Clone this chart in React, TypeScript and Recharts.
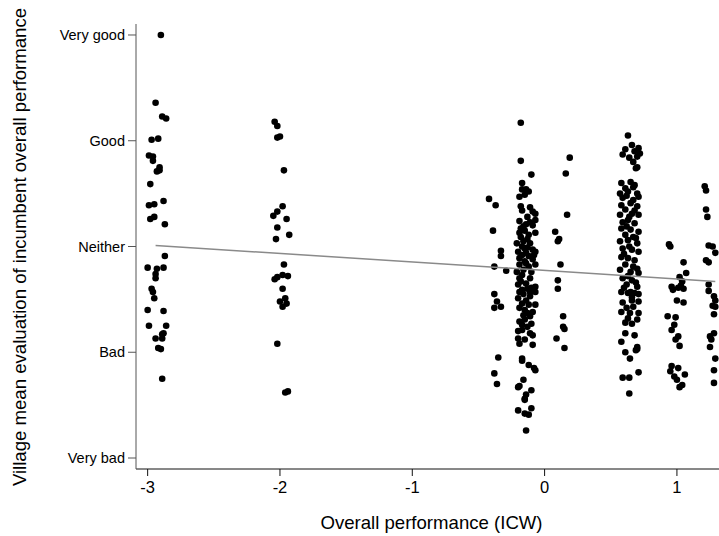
import { ScatterChart, Scatter, XAxis, YAxis } from 'recharts';

// [overall performance (ICW), village mean evaluation]
const groupA: [number, number][] = [
  [-2.9, 5.0], [-2.94, 4.36], [-2.89, 4.23], [-2.86, 4.21], [-2.97, 4.01], [-2.92, 4.02],
  [-2.99, 3.86], [-2.96, 3.85], [-2.96, 3.81], [-2.91, 3.75], [-2.93, 3.71], [-2.91, 3.72],
  [-2.98, 3.59], [-2.99, 3.39], [-2.95, 3.4], [-2.88, 3.43], [-2.98, 3.26], [-2.95, 3.28],
  [-2.87, 3.21], [-2.87, 2.91], [-3.0, 2.8], [-2.93, 2.79], [-2.88, 2.8], [-2.94, 2.74],
  [-2.94, 2.7], [-2.97, 2.6], [-2.96, 2.57], [-2.95, 2.51], [-3.0, 2.4], [-2.88, 2.39],
  [-2.99, 2.25], [-2.86, 2.25], [-2.94, 2.13], [-2.89, 2.17], [-2.88, 2.18], [-2.89, 2.13],
  [-2.92, 2.04], [-2.9, 2.03], [-2.89, 1.75],
];

const groupB: [number, number][] = [
  [-2.04, 4.18], [-2.02, 4.14], [-2.02, 4.03], [-2.0, 4.04], [-1.97, 3.72], [-1.98, 3.38],
  [-2.02, 3.33], [-2.05, 3.29], [-1.95, 3.26], [-2.02, 3.18], [-2.03, 3.07], [-1.93, 3.11],
  [-1.97, 2.83], [-2.04, 2.69], [-2.02, 2.71], [-1.98, 2.73], [-1.94, 2.72], [-1.98, 2.6],
  [-2.0, 2.48], [-1.96, 2.51], [-1.95, 2.46], [-1.98, 2.43], [-2.02, 2.08], [-1.96, 1.62],
  [-1.94, 1.63],
];

const groupC: [number, number][] = [
  [-0.42, 3.45], [-0.37, 3.39], [-0.39, 3.15], [-0.33, 2.96], [-0.33, 2.91], [-0.38, 2.81],
  [-0.29, 2.77], [-0.38, 2.55], [-0.36, 2.48], [-0.38, 2.42], [-0.33, 2.43], [-0.35, 1.95],
  [-0.38, 1.8], [-0.36, 1.7],
];

const groupD: [number, number][] = [
  [-0.18, 4.17], [-0.18, 3.81], [-0.1, 3.68], [-0.17, 3.6], [-0.17, 3.54], [-0.14, 3.54],
  [-0.12, 3.52], [-0.15, 3.49], [-0.19, 3.47], [-0.18, 3.38], [-0.17, 3.34], [-0.11, 3.37],
  [-0.09, 3.33], [-0.07, 3.31], [-0.13, 3.28], [-0.19, 3.24], [-0.11, 3.23], [-0.07, 3.25],
  [-0.16, 3.19], [-0.09, 3.2], [-0.19, 3.13], [-0.15, 3.15], [-0.07, 3.13], [-0.18, 3.09],
  [-0.12, 3.11], [-0.13, 3.07], [-0.21, 3.03], [-0.16, 3.05], [-0.11, 3.03], [-0.17, 3.0],
  [-0.15, 2.98], [-0.09, 2.97], [-0.2, 2.95], [-0.14, 2.94], [-0.07, 2.95], [-0.08, 2.92],
  [-0.12, 2.91], [-0.19, 2.89], [-0.15, 2.86], [-0.09, 2.88], [-0.19, 2.83], [-0.12, 2.81],
  [-0.07, 2.83], [-0.21, 2.76], [-0.16, 2.78], [-0.1, 2.76], [-0.17, 2.73], [-0.19, 2.7],
  [-0.11, 2.7], [-0.2, 2.64], [-0.14, 2.65], [-0.07, 2.62], [-0.13, 2.6], [-0.17, 2.59],
  [-0.11, 2.57], [-0.19, 2.57], [-0.07, 2.57], [-0.2, 2.51], [-0.11, 2.53], [-0.14, 2.49],
  [-0.17, 2.46], [-0.12, 2.45], [-0.07, 2.45], [-0.19, 2.42], [-0.15, 2.4], [-0.09, 2.38],
  [-0.16, 2.35], [-0.11, 2.34], [-0.15, 2.31], [-0.19, 2.29], [-0.1, 2.27], [-0.13, 2.24],
  [-0.17, 2.21], [-0.2, 2.2], [-0.11, 2.18], [-0.09, 2.16], [-0.2, 2.13], [-0.15, 2.12],
  [-0.19, 2.08], [-0.09, 2.07], [-0.17, 1.94], [-0.17, 1.92], [-0.12, 1.88], [-0.08, 1.85],
  [-0.07, 1.83], [-0.16, 1.74], [-0.2, 1.67], [-0.19, 1.68], [-0.1, 1.64], [-0.14, 1.6],
  [-0.15, 1.56], [-0.15, 1.55], [-0.2, 1.45], [-0.1, 1.47], [-0.15, 1.42], [-0.12, 1.41],
  [-0.14, 1.26], [-0.14, 3.21], [-0.18, 3.17], [-0.13, 2.99], [-0.17, 2.92], [-0.14, 2.84],
  [-0.18, 2.67], [-0.1, 2.61], [-0.16, 2.55], [-0.13, 2.37], [-0.17, 2.26],
];

const groupE: [number, number][] = [
  [0.19, 3.84], [0.16, 3.69], [0.17, 3.3], [0.08, 3.14], [0.11, 3.07], [0.1, 3.05],
  [0.12, 2.83], [0.1, 2.68], [0.1, 2.6], [0.14, 2.34], [0.14, 2.24], [0.15, 2.22],
  [0.09, 2.13], [0.15, 2.04],
];

const groupF: [number, number][] = [
  [0.63, 4.05], [0.66, 3.96], [0.71, 3.93], [0.61, 3.92], [0.68, 3.9], [0.72, 3.88],
  [0.59, 3.87], [0.64, 3.84], [0.7, 3.85], [0.67, 3.8], [0.7, 3.75], [0.69, 3.74],
  [0.65, 3.61], [0.58, 3.6], [0.68, 3.58], [0.67, 3.56], [0.61, 3.55], [0.63, 3.52],
  [0.57, 3.5], [0.7, 3.5], [0.62, 3.48], [0.71, 3.47], [0.59, 3.46], [0.67, 3.44],
  [0.65, 3.41], [0.58, 3.39], [0.7, 3.38], [0.61, 3.35], [0.68, 3.34], [0.66, 3.31],
  [0.57, 3.3], [0.71, 3.3], [0.64, 3.28], [0.63, 3.25], [0.59, 3.23], [0.68, 3.22],
  [0.62, 3.19], [0.58, 3.17], [0.65, 3.16], [0.71, 3.14], [0.61, 3.11], [0.67, 3.09],
  [0.69, 3.08], [0.63, 3.06], [0.57, 3.05], [0.7, 3.03], [0.64, 3.0], [0.59, 2.98],
  [0.66, 2.97], [0.71, 2.95], [0.6, 2.93], [0.58, 2.9], [0.63, 2.89], [0.68, 2.87],
  [0.61, 2.83], [0.67, 2.81], [0.7, 2.79], [0.57, 2.78], [0.65, 2.76], [0.71, 2.75],
  [0.63, 2.72], [0.59, 2.7], [0.66, 2.68], [0.69, 2.66], [0.62, 2.64], [0.7, 2.62],
  [0.6, 2.61], [0.58, 2.57], [0.65, 2.57], [0.68, 2.56], [0.63, 2.56], [0.71, 2.55],
  [0.66, 2.52], [0.66, 2.49], [0.71, 2.48], [0.59, 2.47], [0.67, 2.43], [0.62, 2.42],
  [0.58, 2.38], [0.645, 2.37], [0.71, 2.37], [0.63, 2.32], [0.7, 2.31], [0.61, 2.28],
  [0.66, 2.27], [0.61, 2.18], [0.68, 2.16], [0.58, 2.1], [0.7, 2.05], [0.69, 2.02],
  [0.7, 2.03], [0.61, 2.0], [0.645, 1.94], [0.71, 1.81], [0.59, 1.76], [0.64, 1.76],
  [0.64, 1.61],
];

const groupG: [number, number][] = [
  [0.94, 3.02], [0.95, 3.0], [1.05, 2.85], [1.07, 2.75], [1.02, 2.71], [1.04, 2.67],
  [0.96, 2.62], [0.97, 2.59], [1.01, 2.61], [1.03, 2.63], [1.05, 2.6], [1.0, 2.49],
  [1.05, 2.47], [0.93, 2.34], [0.99, 2.33], [0.98, 2.26], [0.96, 2.21], [1.01, 2.15],
  [0.99, 2.12], [1.02, 2.06], [0.96, 1.87], [0.95, 1.82], [1.01, 1.85], [1.06, 1.79],
  [0.98, 1.77], [1.0, 1.74], [1.02, 1.67], [1.04, 1.69],
];

const groupH: [number, number][] = [
  [1.21, 3.57], [1.22, 3.53], [1.22, 3.35], [1.23, 3.28], [1.24, 3.01], [1.27, 3.0],
  [1.29, 2.94], [1.22, 2.87], [1.24, 2.85], [1.24, 2.64], [1.24, 2.58], [1.28, 2.53],
  [1.29, 2.49], [1.27, 2.44], [1.29, 2.43], [1.28, 2.36], [1.28, 2.18], [1.25, 2.15],
  [1.26, 2.12], [1.25, 2.05], [1.29, 1.94], [1.28, 1.83], [1.28, 1.71],
];

const fitLine: [number, number][] = [[-2.94, 3.01], [1.29, 2.67]];

const xTicks = [-3, -2, -1, 0, 1];
const yTicks = [1, 2, 3, 4, 5];
const yTickLabels = ['Very bad', 'Bad', 'Neither', 'Good', 'Very good'];

const toPoints = (rows: [number, number][]) => rows.map(([x, y]) => ({ x, y }));

const points = [groupA, groupB, groupC, groupD, groupE, groupF, groupG, groupH]
  .flatMap(toPoints);

const FONT = '"Liberation Sans", Arial, sans-serif';

const Dot = (props: any) => (
  <circle cx={props.cx} cy={props.cy} r={3.3} fill="#000" />
);

export default function App() {
  return (
    <div style={{ position: 'absolute', left: 0, top: 0, background: '#fff' }}>
      <ScatterChart
        width={719}
        height={536}
        margin={{ top: 24, right: 0, bottom: 0, left: 0 }}
        style={{ fontFamily: FONT }}
      >
        <XAxis
          type="number"
          dataKey="x"
          domain={[-3.088, 1.318]}
          ticks={xTicks}
          allowDataOverflow
          height={67}
          stroke="#111"
          tickSize={7}
          tickMargin={5}
          tick={{ fill: '#000', fontSize: 16.5, fontFamily: FONT }}
        />
        <YAxis
          type="number"
          dataKey="y"
          domain={[0.896, 5.104]}
          ticks={yTicks}
          allowDataOverflow
          width={136}
          stroke="#555"
          tickSize={8}
          tickMargin={3}
          tickFormatter={(v: number) => yTickLabels[v - 1]}
          tick={{ fill: '#000', fontSize: 14.5, fontFamily: FONT }}
        />
        <Scatter data={points} shape={Dot} isAnimationActive={false} />
        <Scatter
          data={toPoints(fitLine)}
          line={{ stroke: '#8a8a8a', strokeWidth: 1.5 }}
          shape={() => <g />}
          isAnimationActive={false}
        />
      </ScatterChart>
      <svg
        width={719}
        height={536}
        style={{ position: 'absolute', left: 0, top: 0, pointerEvents: 'none' }}
      >
        <text
          x={431.5}
          y={529}
          textAnchor="middle"
          fontSize={18.6}
          fontFamily={FONT}
          fill="#000"
        >
          Overall performance (ICW)
        </text>
        <text
          x={19}
          y={247}
          transform="rotate(-90 19 247)"
          textAnchor="middle"
          dominantBaseline="central"
          fontSize={18.6}
          fontFamily={FONT}
          fill="#000"
        >
          Village mean evaluation of incumbent overall performance
        </text>
      </svg>
    </div>
  );
}
